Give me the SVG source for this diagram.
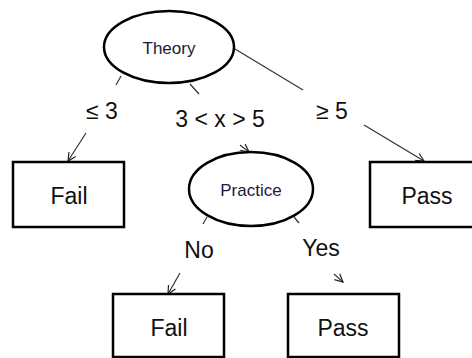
<svg xmlns="http://www.w3.org/2000/svg" width="472" height="358" viewBox="0 0 472 358">
<defs>
<style>
.node{fill:#fff;stroke:#000;stroke-width:2.5}
.t{font-family:"Liberation Sans",Arial,sans-serif;fill:#111;text-anchor:middle}
.small{font-size:17px;fill:#1a1a3a}
.big{font-size:23px}
.lbl{font-size:23px}
.c{fill:none;stroke:#333;stroke-width:1.2}
</style>
<marker id="arr" markerWidth="10" markerHeight="10" refX="9" refY="5" orient="auto" markerUnits="userSpaceOnUse">
<path d="M1,1 L9,5 L1,9" fill="none" stroke="#222" stroke-width="1.2"/>
</marker>
</defs>
<rect width="472" height="358" fill="#fff"/>
<g id="connectors">
<line class="c" x1="121" y1="76" x2="116" y2="85"/>
<line class="c" x1="86" y1="133" x2="68" y2="161" marker-end="url(#arr)"/>
<line class="c" x1="190" y1="84" x2="199" y2="94"/>
<line class="c" x1="240" y1="145" x2="249" y2="152" marker-end="url(#arr)"/>
<line class="c" x1="235" y1="49" x2="303" y2="90"/>
<line class="c" x1="364" y1="125" x2="424" y2="161" marker-end="url(#arr)"/>
<line class="c" x1="207" y1="217" x2="203" y2="224"/>
<line class="c" x1="180" y1="273" x2="168" y2="294" marker-end="url(#arr)"/>
<line class="c" x1="294" y1="217" x2="299" y2="223"/>
<line class="c" x1="334" y1="274" x2="343" y2="282" marker-end="url(#arr)"/>
<text class="t lbl" x="102" y="119">≤ 3</text>
<text class="t lbl" x="220" y="127">3 &lt; x &gt; 5</text>
<text class="t lbl" x="332" y="119">≥ 5</text>
<text class="t lbl" x="199" y="258">No</text>
<text class="t lbl" x="321" y="256">Yes</text>
</g>
<g id="theory">
<ellipse class="node" cx="169" cy="47" rx="65" ry="36"/>
<text class="t small" x="169" y="54">Theory</text>
</g>
<g id="fail1">
<rect class="node" x="13" y="162" width="111" height="65"/>
<text class="t big" x="69" y="204">Fail</text>
</g>
<g id="practice">
<ellipse class="node" cx="251" cy="189" rx="62" ry="37"/>
<text class="t small" x="251" y="196">Practice</text>
</g>
<g id="pass1">
<rect class="node" x="370" y="162" width="120" height="65"/>
<text class="t big" x="427" y="204">Pass</text>
</g>
<g id="fail2">
<rect class="node" x="113" y="294" width="111" height="63"/>
<text class="t big" x="169" y="336">Fail</text>
</g>
<g id="pass2">
<rect class="node" x="288" y="294" width="111" height="63"/>
<text class="t big" x="343" y="336">Pass</text>
</g>
</svg>
